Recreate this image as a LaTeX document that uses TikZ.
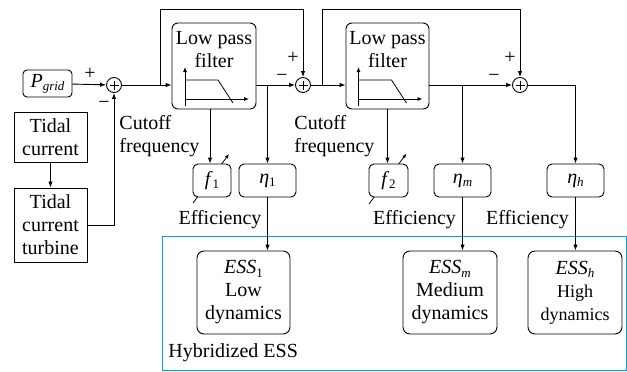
\documentclass[tikz,border=0pt]{standalone}
\usepackage{fontspec}
\setmainfont{Liberation Serif}
\usetikzlibrary{arrows.meta,calc,backgrounds}
\definecolor{essblue}{RGB}{0,160,220}
\newcommand{\mysub}[1]{\raisebox{-0.35ex}{\fontsize{13}{13}\selectfont #1}}
\newcommand{\smallf}{\fontsize{18}{21}\selectfont}
\begin{document}
\begin{tikzpicture}[x=1pt,y=-1pt,
  font=\fontsize{20}{23}\selectfont,
  line width=0.9pt,
  >={Latex[length=6pt,width=4.5pt]},
  box/.style={draw, rounded corners=4pt, align=center, inner sep=0pt, fill=white},
  sq/.style={draw, align=center, inner sep=0pt},
  sumc/.style={draw, circle, minimum size=15pt, inner sep=0pt,
    path picture={\draw[line width=0.7pt]
      ($(path picture bounding box.center)+(-4.5,0)$) -- ++(9,0)
      ($(path picture bounding box.center)+(0,-4.5)$) -- ++(0,9);}},
  lbl/.style={inner sep=0pt},
  plot/.style={line width=0.8pt},
  var/.style={-{Latex[length=4.5pt,width=3.5pt]}, line width=0.8pt}
]
\useasboundingbox (0,0) rectangle (627,372);

% main blocks
\node[box, minimum width=49pt, minimum height=27pt] (pgrid) at (47.5,83.5) {\textit{P}\mysub{\textit{grid}}};
\node[sumc] (s1) at (114,85) {};
\node[sq, minimum width=73pt, minimum height=50pt] (tc) at (50.5,137) {Tidal\\current};
\node[sq, minimum width=73pt, minimum height=74pt] (tct) at (50.5,225) {Tidal\\current\\turbine};
\node[box, rounded corners=6pt, minimum width=84pt, minimum height=86pt] (lpf1) at (214,66) {};
\node[sumc] (s2) at (303,85) {};
\node[box, rounded corners=6pt, minimum width=83pt, minimum height=86pt] (lpf2) at (387.5,66) {};
\node[sumc] (s3) at (520,85) {};

% filter texts and plots
\node[lbl, anchor=north, align=center] at ($(lpf1.north)+(0,8.5)$) {Low pass\\filter};
\node[lbl, anchor=north, align=center] at ($(lpf2.north)+(0,8.5)$) {Low pass\\filter};
\foreach \f in {lpf1,lpf2}{
  \begin{scope}[shift={(\f.center)}]
    \draw[plot,-{Latex[length=5pt,width=4pt]}] (-29,40) -- (-29,1);
    \draw[plot,-{Latex[length=5pt,width=4pt]}] (-29,33) -- (35,33);
    \draw[plot] (-29,14) -- (4,14) -- (19,37);
  \end{scope}
}

% parameter boxes
\node[box, rounded corners=5pt, minimum width=38pt, minimum height=33pt] (f1) at (212,180.5) {\textit{f}\mysub{1}};
\node[box, rounded corners=5pt, minimum width=57pt, minimum height=33pt] (eta1) at (267.5,180.5) {\textit{η}\mysub{1}};
\node[box, rounded corners=5pt, minimum width=39pt, minimum height=33pt] (f2) at (388.5,180.5) {\textit{f}\mysub{2}};
\node[box, rounded corners=5pt, minimum width=57pt, minimum height=33pt] (etam) at (462.5,180.5) {\textit{η}\mysub{\textit{m}}};
\node[box, rounded corners=5pt, minimum width=57pt, minimum height=33pt] (etah) at (575.5,180.5) {\textit{η}\mysub{\textit{h}}};

\begin{scope}[on background layer]
  \draw[var] ($(f1.center)+(-19,22.5)$) -- ($(f1.center)+(17,-26.5)$);
  \draw[var] ($(f2.center)+(-19.5,23.5)$) -- ($(f2.center)+(18,-27)$);
\end{scope}

% ESS
\node[draw=essblue, line width=0.8pt, minimum width=464pt, minimum height=134pt, inner sep=0pt] (hyb) at (394,303) {};
\node[box, rounded corners=7pt, minimum width=93pt, minimum height=83pt] (ess1) at (243.5,292.5) {\textit{ESS}\mysub{1}\\Low\\dynamics};
\node[box, rounded corners=7pt, minimum width=94pt, minimum height=83pt] (essm) at (450,292.5) {\textit{ESS}\mysub{\textit{m}}\\Medium\\dynamics};
\node[box, rounded corners=7pt, minimum width=94pt, minimum height=83pt] (essh) at (575,292.5) {\textit{ESS}\mysub{\textit{h}}\\\smallf High\\\smallf dynamics};
\node[lbl, anchor=west] at (168,353) {Hybridized ESS};

% connectors
\draw[->] (pgrid) -- (s1);
\draw[->] (tc) -- (tct);
\draw[->] (tct.east) -| (s1.south);
\draw[->] (s1.east) -- (s1.east -| lpf1.west);
\coordinate (b1) at (160,85);
\draw[->] (b1) -- ++(0,-76) -| (s2.north);
\draw[->] (lpf1.east |- s2) -- (s2.west);
\draw[->] (s2.east) -- (s2.east -| lpf2.west);
\coordinate (b2) at (322,85);
\draw[->] (b2) -- ++(0,-76) -| (s3.north);
\draw[->] (lpf2.east |- s3) -- (s3.west);
\draw[->] (eta1.north |- s2) -- (eta1.north);
\draw[->] (etam.north |- s3) -- (etam.north);
\draw[->] (s3.east) -| (etah.north);
\draw[->] ([xshift=-2pt]lpf1.south -| f1) -- ([xshift=-2pt]f1.north);
\draw[->] ([xshift=-1pt]lpf2.south -| f2) -- ([xshift=-1pt]f2.north);
\draw[->] (eta1.south) -- (eta1.south |- ess1.north);
\draw[->] (etam.south) -- (etam.south |- essm.north);
\draw[->] (etah.south) -- (etah.south |- essh.north);

% signs
\node[lbl] at (90,74) {+};
\node[lbl] at (104,105) {−};
\node[lbl] at (293,58) {+};
\node[lbl] at (282,78) {−};
\node[lbl] at (510,58) {+};
\node[lbl] at (494,78) {−};

% labels
\node[lbl, anchor=west, align=left] at (119,136) {Cutoff\\frequency};
\node[lbl, anchor=west, align=left] at (294,136) {Cutoff\\frequency};
\node[lbl] at (220,220) {Efficiency};
\node[lbl] at (414.5,220) {Efficiency};
\node[lbl] at (527.5,220) {Efficiency};
\end{tikzpicture}
\end{document}
